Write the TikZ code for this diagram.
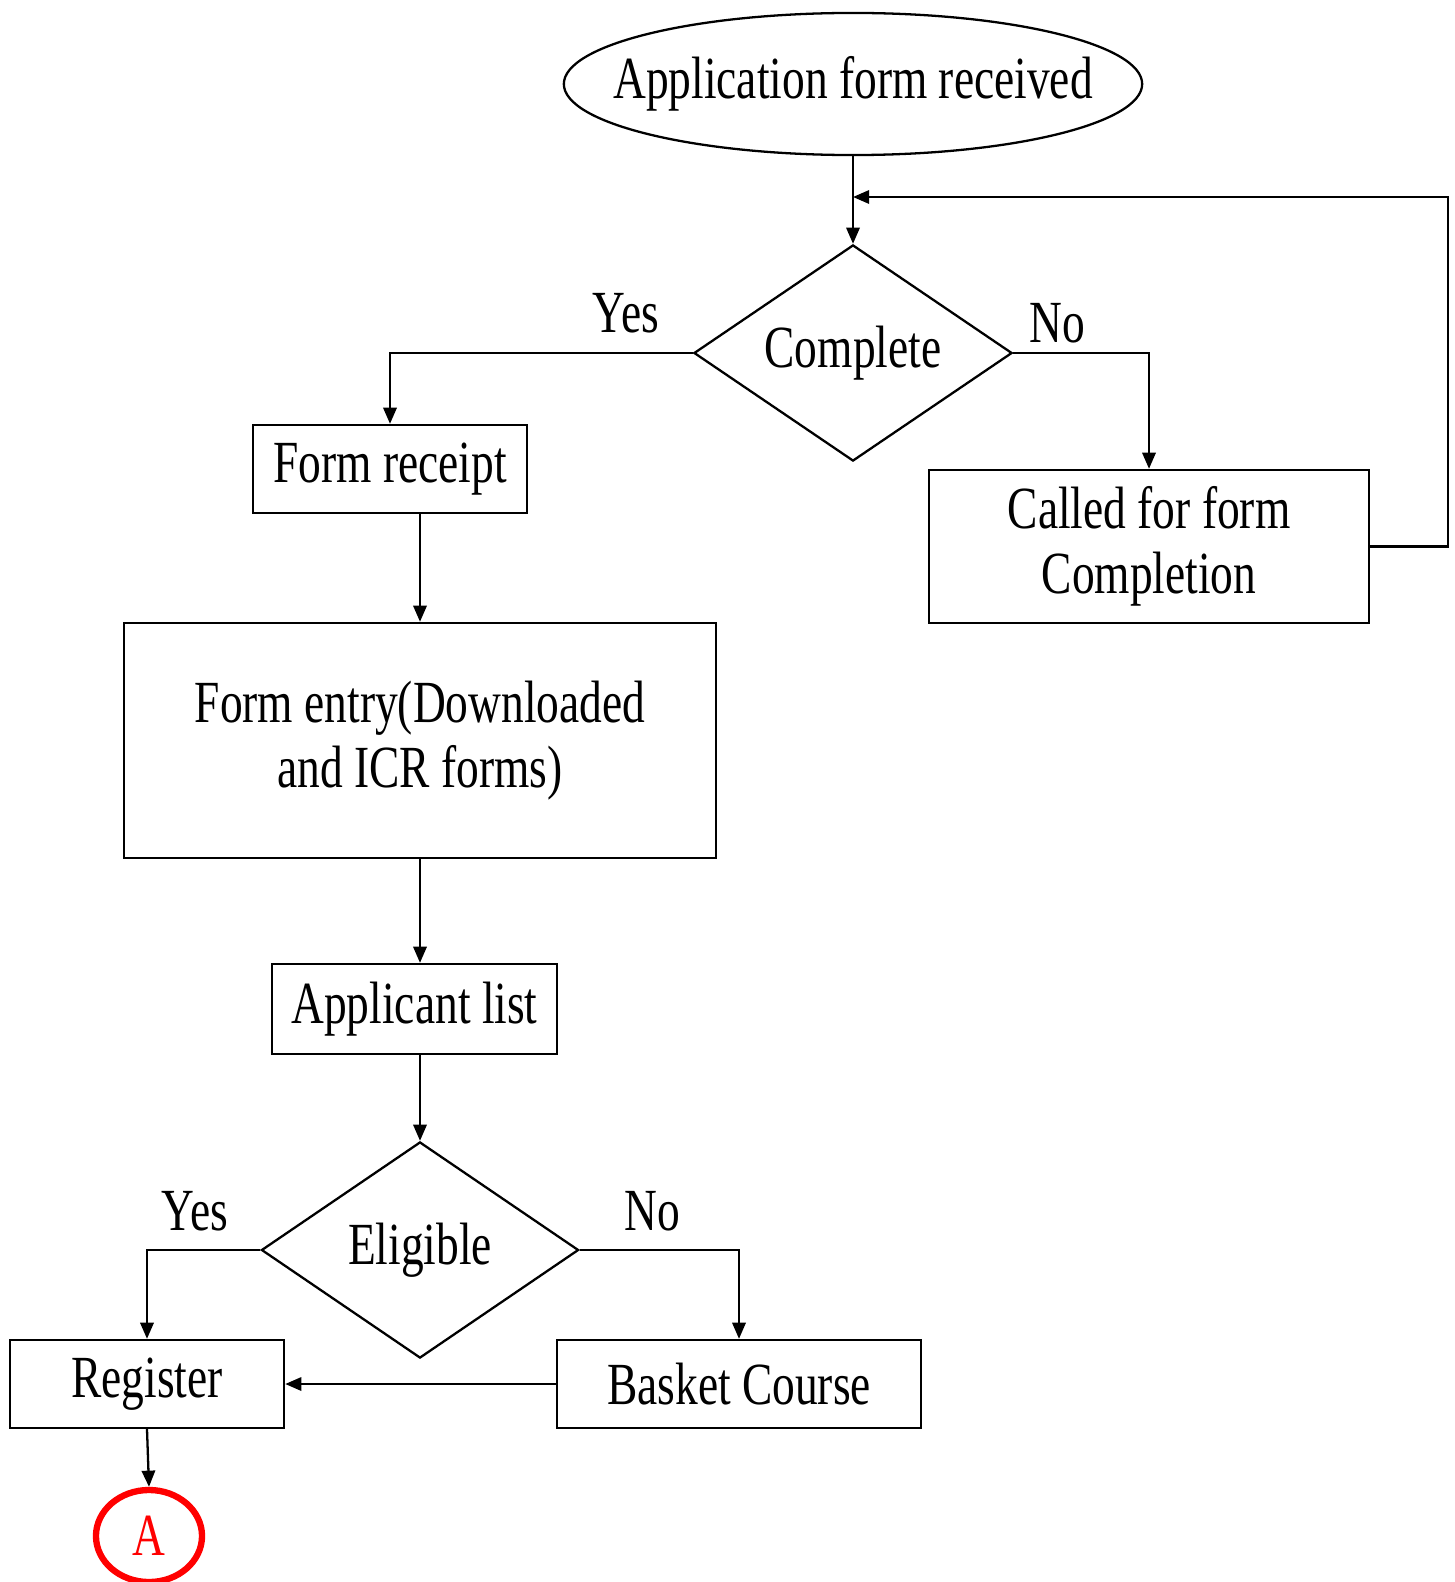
\documentclass[tikz,border=0pt]{standalone}
\usepackage{fontspec}
\setmainfont{Liberation Serif}[FakeStretch=0.76]
\usetikzlibrary{shapes.geometric,arrows.meta}
\begin{document}
\begin{tikzpicture}[x=0.01cm,y=-0.01cm,
  every node/.style={font=\fontsize{17}{18.5}\selectfont},
  conn/.style={line width=0.65pt,-{Triangle[length=4.6pt,width=3.8pt]}},
  boxnode/.style={draw,line width=0.65pt,rectangle,inner sep=0pt,align=center},
  decision/.style={draw,line width=0.65pt,diamond,inner sep=0pt,aspect=1.47},
  lbl/.style={inner sep=0pt}
]
\useasboundingbox (0,0) rectangle (1455,1582);
\node[draw,line width=0.65pt,ellipse,inner xsep=-0.36cm,inner ysep=0pt,minimum width=5.78cm,minimum height=1.42cm] (start) at (853,84) {Application form received};
\node[decision,minimum width=3.18cm,minimum height=2.16cm] (complete) at (853,353) {Complete};
\node[boxnode,minimum width=2.74cm,minimum height=0.88cm] (receipt) at (390,469) {Form receipt};
\node[boxnode,minimum width=4.40cm,minimum height=1.53cm] (called) at (1149,546.5) {Called for form\\Completion};
\node[boxnode,minimum width=5.92cm,minimum height=2.35cm] (entry) at (420,740.5) {Form entry(Downloaded\\and ICR forms)};
\node[boxnode,minimum width=2.85cm,minimum height=0.90cm] (applist) at (414.5,1009) {Applicant list};
\node[decision,minimum width=3.17cm,minimum height=2.16cm] (eligible) at (420,1250) {Eligible};
\node[boxnode,minimum width=2.74cm,minimum height=0.88cm] (register) at (147,1384) {Register};
\node[boxnode,minimum width=3.64cm,minimum height=0.88cm] (basket) at (739,1384) {Basket Course};
\node[draw=red,line width=1.8pt,ellipse,inner sep=0pt,minimum width=1.06cm,minimum height=0.92cm,text=red] (A) at (149,1536) {A};

\node[lbl] (yes1) at (626,313) {Yes};
\node[lbl] (no1) at (1057,323) {No};
\node[lbl] (yes2) at (195,1211) {Yes};
\node[lbl] (no2) at (652,1211) {No};

\coordinate (loopR) at (1448,197);
\coordinate (join) at (853,197);

\draw[conn] (start.south) -- (complete.north);
\draw[conn] (complete.west) -| (receipt.north);
\draw[conn] (complete.east) -| (called.north);
\draw[conn] (called.east) -| (loopR) -- (join);
\draw[conn] (receipt.south -| entry.north) -- (entry.north);
\draw[conn] (entry.south) -- (entry.south |- applist.north);
\draw[conn] (applist.south -| eligible.north) -- (eligible.north);
\draw[conn] (eligible.west) -| (register.north);
\draw[conn] (eligible.east) -| (basket.north);
\draw[conn] (basket.west) -- (register.east);
\draw[conn] (register.south) -- (A.north);
\end{tikzpicture}
\end{document}
